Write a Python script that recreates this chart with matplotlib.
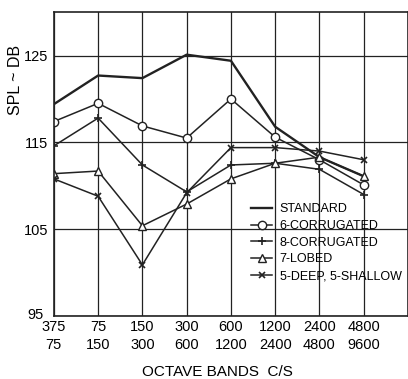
import numpy as np
import matplotlib.pyplot as plt
from matplotlib.transforms import ScaledTranslation

plt.rcParams['font.family'] = ['Liberation Sans', 'DejaVu Sans']

bands = ['375\n75', '75\n150', '150\n300', '300\n600', '600\n1200',
         '1200\n2400', '2400\n4800', '4800\n9600']

standard = [119.4, 122.7, 122.4, 125.1, 124.4, 116.8, 113.3, 111.1]
corr6 = [117.4, 119.5, 116.9, 115.5, 120.0, 115.6, 113.0, 110.1]
corr8 = [114.6, 117.8, 112.4, 109.3, 112.4, 112.6, 111.9, 109.0]
lobed7 = [111.4, 111.7, 105.4, 107.9, 110.8, 112.6, 113.3, 111.1]
deep_shallow = [110.8, 108.8, 100.9, 109.2, 114.4, 114.4, 114.0, 113.0]

fig = plt.figure(figsize=(4.08, 3.79), dpi=100)
ax = fig.add_axes([0.132, 0.166, 0.868, 0.802])

x = np.arange(len(bands))
ink = '#222222'
ax.plot(x, standard, color=ink, lw=1.7, label='STANDARD')
ax.plot(x, corr6, color=ink, lw=1.1, marker='o', ms=6, mfc='white',
        mec=ink, label='6-CORRUGATED')
ax.plot(x, corr8, color=ink, lw=1.1, marker='+', ms=6, mew=1.2,
        label='8-CORRUGATED')
ax.plot(x, lobed7, color=ink, lw=1.1, marker='^', ms=6, mfc='white',
        mec=ink, label='7-LOBED')
ax.plot(x, deep_shallow, color=ink, lw=1.1, marker='x', ms=5, mew=1.2,
        label='5-DEEP, 5-SHALLOW')

ax.set_xlim(0, 8)
ax.set_ylim(95, 130)
ax.set_xticks(x)
ax.set_xticklabels(bands, fontsize=10.5, linespacing=1.35)
ax.set_yticks([95, 105, 115, 125])
ax.set_yticklabels(['95', '105', '115', '125'], fontsize=10.5)
ax.tick_params(axis='x', length=0, pad=3)
ax.tick_params(axis='y', length=0, pad=4)
# nudge the bottom y label clear of the first band label
lab95 = ax.get_yticklabels()[0]
lab95.set_transform(lab95.get_transform() +
                    ScaledTranslation(-5 / 100, 3 / 100, fig.dpi_scale_trans))
ax.grid(True, color=ink, lw=0.9)
ax.set_axisbelow(True)
for s in ax.spines.values():
    s.set_color(ink)
    s.set_linewidth(1.2)

ax.set_xlabel('OCTAVE BANDS  C/S', fontsize=11, labelpad=9, x=0.463)
fig.text(0.038, 0.79, 'SPL ~ DB', rotation=90, fontsize=11.5,
         ha='center', va='center')

fig.legend(loc='upper left', bbox_to_anchor=(0.615, 0.464), frameon=False,
           fontsize=9, handlelength=1.7, handletextpad=0.6,
           labelspacing=0.38, borderaxespad=0, borderpad=0)

fig.savefig('out.png', dpi=100)
